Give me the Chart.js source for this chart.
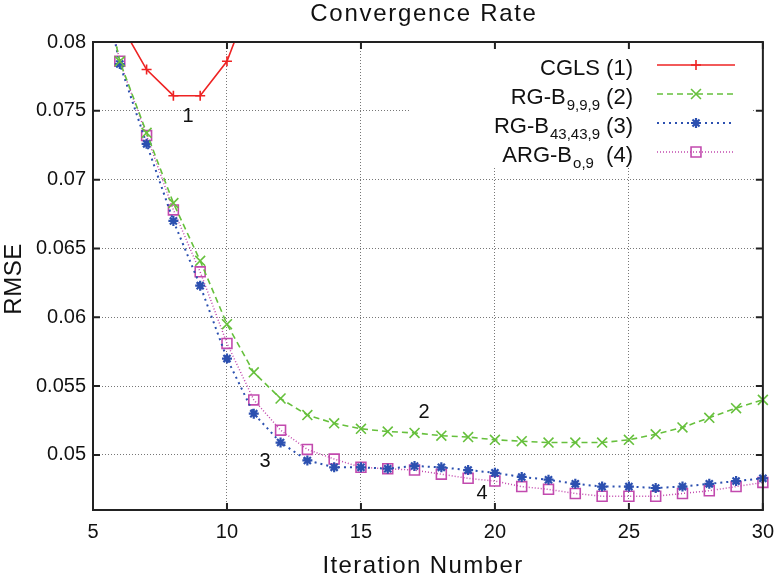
<!DOCTYPE html>
<html>
<head>
<meta charset="utf-8">
<title>Convergence Rate</title>
<script src="https://cdn.jsdelivr.net/npm/chart.js@4.4.1/dist/chart.umd.min.js"></script>
<style>
  html, body { margin: 0; padding: 0; background: #fff; }
  canvas { display: block; }
</style>
</head>
<body>
<canvas id="rmse" width="784" height="582"></canvas>
<script>
// values, one entry per iteration 5..30
const iterations = [5, 6, 7, 8, 9, 10, 11, 12, 13, 14, 15, 16, 17, 18, 19, 20, 21, 22, 23, 24, 25, 26, 27, 28, 29, 30];
const cgls = [null, 0.0814, 0.0780, 0.0761, 0.0761, 0.0786, 0.0837, null, null, null, null, null, null,
              null, null, null, null, null, null, null, null, null, null, null, null, null];
const rgb999 = [0.0875, 0.0786, 0.0734, 0.0683, 0.0641, 0.0595, 0.0560, 0.0541, 0.0529, 0.0523, 0.0519, 0.0517, 0.0516,
                0.0514, 0.0513, 0.0511, 0.0510, 0.0509, 0.0509, 0.0509, 0.0511, 0.0515, 0.0520, 0.0527, 0.0534, 0.0540];
const rgb43 = [0.0875, 0.0784, 0.0726, 0.0670, 0.0623, 0.0570, 0.0530, 0.0509, 0.0496, 0.0491, 0.0491, 0.0490, 0.0492,
               0.0491, 0.0489, 0.0487, 0.0484, 0.0482, 0.0479, 0.0477, 0.0477, 0.0476, 0.0477, 0.0479, 0.0481, 0.0483];
const argb = [0.0875, 0.0786, 0.0732, 0.0678, 0.0633, 0.0581, 0.0540, 0.0518, 0.0504, 0.0497, 0.0491, 0.0490, 0.0489,
              0.0486, 0.0483, 0.0481, 0.0477, 0.0475, 0.0472, 0.0470, 0.0470, 0.0470, 0.0472, 0.0474, 0.0477, 0.0480];

const xTicks = [5, 10, 15, 20, 25, 30];
const yTicks = [0.05, 0.055, 0.06, 0.065, 0.07, 0.075, 0.08];
const yTickLabels = ['0.05', '0.055', '0.06', '0.065', '0.07', '0.075', '0.08'];

const FONT = "'Liberation Sans', Arial, Helvetica, sans-serif";

const series = [
    { label: 'CGLS', sub: '', tail: ' (1)', data: cgls, color: '#ee2323', dash: [], width: 1.6, point: 'cross', radius: 5, pw: 1.6 },
    { label: 'RG-B', sub: '9,9,9', tail: ' (2)', data: rgb999, color: '#66c03c', dash: [6, 4], width: 1.6, point: 'crossRot', radius: 7, pw: 1.6 },
    { label: 'RG-B', sub: '43,43,9', tail: ' (3)', data: rgb43, color: '#2c50b0', dash: [2, 4], width: 2, point: 'star', radius: 5, pw: 2.2 },
    { label: 'ARG-B', sub: 'o,9', tail: '  (4)', data: argb, color: '#c24aae', dash: [1, 2], width: 1.5, point: 'rect', radius: 7, pw: 1.6 }
];

function toPoints(values) {
    return iterations.map((it, i) => ({ x: it, y: values[i] }));
}

const gnuplotStyle = {
    id: 'gnuplotStyle',
    beforeDatasetsDraw(chart) {
        // opaque key box hides the grid behind it
        const ctx = chart.ctx;
        ctx.save();
        ctx.fillStyle = '#fff';
        ctx.fillRect(410, 43, 343, 124);
        ctx.restore();
    },
    afterDraw(chart) {
        const ctx = chart.ctx;
        const a = chart.chartArea;
        const xs = chart.scales.x, ys = chart.scales.y;
        ctx.save();

        // frame with inward ticks
        ctx.strokeStyle = '#222';
        ctx.lineWidth = 2;
        ctx.setLineDash([]);
        ctx.strokeRect(a.left, a.top, a.right - a.left, a.bottom - a.top);
        ctx.beginPath();
        xTicks.forEach(v => {
            const px = xs.getPixelForValue(v);
            ctx.moveTo(px, a.bottom); ctx.lineTo(px, a.bottom - 7);
            ctx.moveTo(px, a.top); ctx.lineTo(px, a.top + 7);
        });
        yTicks.forEach(v => {
            const py = ys.getPixelForValue(v);
            ctx.moveTo(a.left, py); ctx.lineTo(a.left + 7, py);
            ctx.moveTo(a.right, py); ctx.lineTo(a.right - 7, py);
        });
        ctx.stroke();

        // titles
        ctx.fillStyle = '#111';
        ctx.textAlign = 'center';
        ctx.textBaseline = 'middle';
        ctx.font = '24px ' + FONT;
        ctx.letterSpacing = '1.7px';
        ctx.fillText('Convergence Rate', 424, 14);
        ctx.letterSpacing = '1.4px';
        ctx.fillText('Iteration Number', 423, 566);
        ctx.letterSpacing = '0.5px';
        ctx.save();
        ctx.translate(14, 279);
        ctx.rotate(-Math.PI / 2);
        ctx.fillText('RMSE', 0, 0);
        ctx.restore();
        ctx.letterSpacing = '0px';

        // curve labels
        ctx.font = '20px ' + FONT;
        ctx.fillText('1', 188, 116);
        ctx.fillText('2', 424, 412);
        ctx.fillText('3', 265, 461);
        ctx.fillText('4', 482, 493);

        // key
        const rightEdge = 633;
        series.forEach((s, i) => {
            const base = 75 + i * 29;
            ctx.textAlign = 'left';
            ctx.textBaseline = 'alphabetic';
            ctx.font = '22px ' + FONT;
            const w1 = ctx.measureText(s.label).width;
            const w3 = ctx.measureText(s.tail).width;
            ctx.font = '15px ' + FONT;
            const w2 = s.sub ? ctx.measureText(s.sub).width + 1 : 0;
            let x = rightEdge - (w1 + w2 + w3);
            ctx.font = '22px ' + FONT;
            ctx.fillText(s.label, x, base);
            x += w1;
            if (s.sub) {
                ctx.font = '15px ' + FONT;
                ctx.fillText(s.sub, x + 1, base + 6);
                x += w2;
            }
            ctx.font = '22px ' + FONT;
            ctx.fillText(s.tail, x, base);

            const ly = base - 10;
            ctx.strokeStyle = s.color;
            ctx.lineWidth = s.width;
            ctx.setLineDash(s.dash);
            ctx.beginPath();
            ctx.moveTo(657, ly);
            ctx.lineTo(735, ly);
            ctx.stroke();
            ctx.setLineDash([]);
            ctx.lineWidth = s.pw;
            ctx.fillStyle = 'rgba(0,0,0,0)';
            Chart.helpers.drawPoint(ctx, { pointStyle: s.point, radius: s.radius, borderWidth: s.pw, rotation: 0 }, 696, ly);
            ctx.fillStyle = '#111';
        });

        ctx.restore();
    }
};

const ctx = document.getElementById('rmse').getContext('2d');
const chart = new Chart(ctx, {
    type: 'line',
    data: {
        datasets: series.map(s => ({
            label: s.label + s.sub + s.tail,
            data: toPoints(s.data),
            borderColor: s.color,
            borderWidth: s.width,
            borderDash: s.dash,
            backgroundColor: 'rgba(0,0,0,0)',
            pointStyle: s.point,
            pointRadius: s.radius,
            pointBorderWidth: s.pw,
            pointBorderColor: s.color,
            pointBackgroundColor: 'rgba(0,0,0,0)',
            tension: 0,
            fill: false,
            spanGaps: false,
            clip: { left: 10, right: 10, top: 0, bottom: 10 }
        }))
    },
    options: {
        responsive: false,
        animation: false,
        devicePixelRatio: 1,
        layout: { padding: { top: 42, right: 14, left: 0, bottom: 0 } },
        plugins: {
            legend: { display: false },
            title: { display: false },
            tooltip: { enabled: false }
        },
        scales: {
            x: {
                type: 'linear',
                min: 5,
                max: 30,
                afterBuildTicks: s => { s.ticks = xTicks.map(v => ({ value: v })); },
                afterFit: s => { s.height = 72; },
                grid: { color: '#777', lineWidth: 1, drawTicks: false },
                border: { display: false, dash: [1, 2] },
                ticks: { font: { family: FONT, size: 20 }, color: '#111', padding: 10, maxRotation: 0,
                         callback: v => String(v) }
            },
            y: {
                type: 'linear',
                min: 0.046,
                max: 0.08,
                afterBuildTicks: s => { s.ticks = yTicks.map(v => ({ value: v })); },
                afterFit: s => { s.width = 93; },
                grid: { color: '#777', lineWidth: 1, drawTicks: false },
                border: { display: false, dash: [1, 2] },
                ticks: { font: { family: FONT, size: 20 }, color: '#111', padding: 7,
                         callback: (v, i) => yTickLabels[i] }
            }
        }
    },
    plugins: [gnuplotStyle]
});
</script>
</body>
</html>
